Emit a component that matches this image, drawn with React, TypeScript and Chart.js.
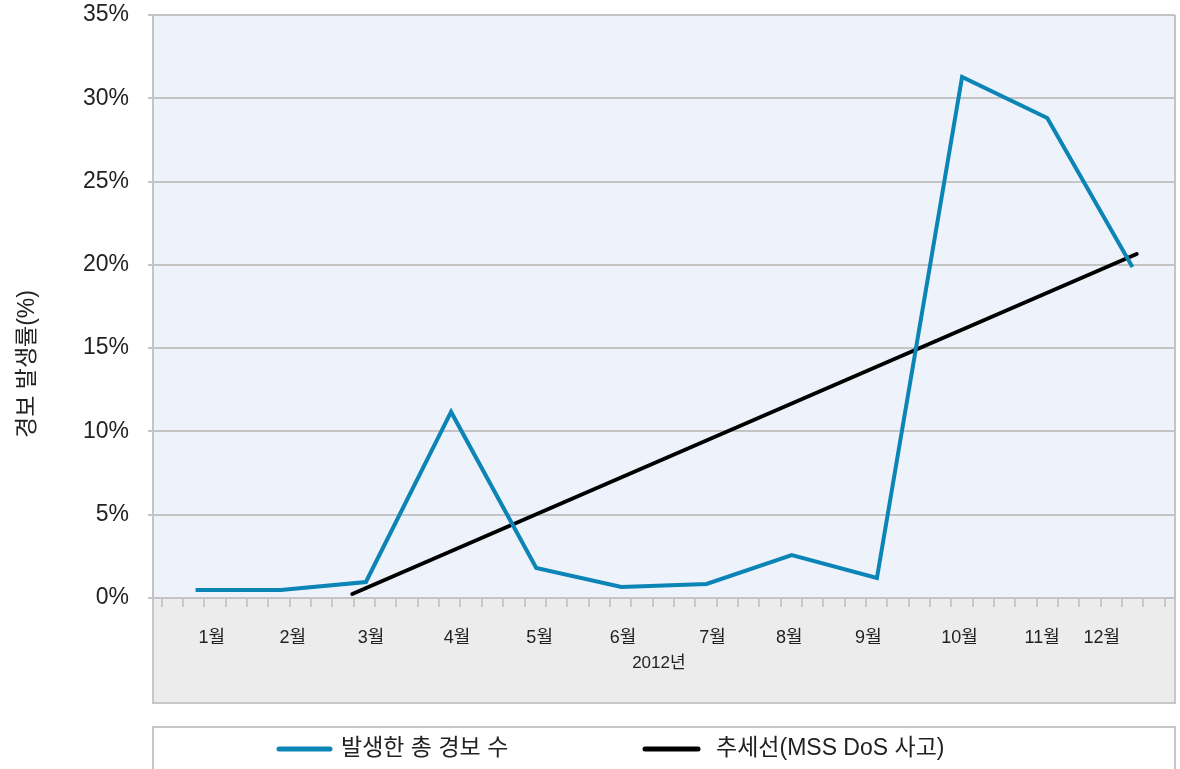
import React, { useEffect, useRef } from "react";
import { Chart, registerables } from "chart.js";

Chart.register(...registerables);

// Monthly alert rate (%) for 2012
const MONTHS = ["1월", "2월", "3월", "4월", "5월", "6월", "7월", "8월", "9월", "10월", "11월", "12월"];
const ALERT_RATE = [0.48, 0.48, 0.96, 11.17, 1.8, 0.66, 0.84, 2.58, 1.2, 31.28, 28.82, 19.87];
// Trend line end points (month position, %)
const TREND_X = [2.84, 12.05];
const TREND_Y = [0.24, 20.65];
const Y_TICKS = [0, 5, 10, 15, 20, 25, 30, 35];
const YEAR_LABEL = "2012년";
const SERIES_NAMES = ["발생한 총 경보 수", "추세선(MSS DoS 사고)"];
const Y_TITLE = "경보 발생률(%)";

const FONT = "'Liberation Sans', Arial, 'Noto Sans CJK KR', sans-serif";
const BLUE = "#0b84b6";
const GRID = "#c4c4c4";

// where each month name sits along the x scale (value units)
const MONTH_LABEL_AT = [1.19, 2.14, 3.06, 4.07, 5.04, 6.02, 7.07, 7.97, 8.9, 9.97, 10.94, 11.64];
const YEAR_LABEL_AT = 6.44;

const framePlugin = {
  id: "frame",
  beforeDraw(chart: any) {
    const { ctx, chartArea } = chart;
    const { left, right, top, bottom } = chartArea;
    ctx.save();
    // plot background
    ctx.fillStyle = "#eef2fa";
    ctx.fillRect(left, top, right - left, bottom - top);
    // category band under the axis
    ctx.fillStyle = "#ececec";
    ctx.fillRect(left, bottom, right - left, 703 - bottom);
    ctx.strokeStyle = "#c8c8c8";
    ctx.lineWidth = 2;
    ctx.strokeRect(left, bottom, right - left, 703 - bottom);
    // legend box
    ctx.fillStyle = "#ffffff";
    ctx.fillRect(left, 727, right - left, 60);
    ctx.strokeRect(left, 727, right - left, 60);
    ctx.restore();
  },
  beforeDatasetsDraw(chart: any) {
    const { ctx, chartArea } = chart;
    ctx.save();
    ctx.strokeStyle = GRID;
    ctx.lineWidth = 2;
    ctx.beginPath();
    ctx.moveTo(chartArea.right, chartArea.top);
    ctx.lineTo(chartArea.right, chartArea.bottom);
    ctx.stroke();
    ctx.restore();
  },
  afterDraw(chart: any) {
    const { ctx } = chart;
    const xs = chart.scales.x;
    ctx.save();
    ctx.fillStyle = "#222";
    ctx.textAlign = "center";
    ctx.textBaseline = "middle";
    ctx.font = `18px ${FONT}`;
    MONTHS.forEach((m, i) => {
      ctx.fillText(m, xs.getPixelForValue(MONTH_LABEL_AT[i]), 638);
    });
    ctx.font = `17px ${FONT}`;
    ctx.fillText(YEAR_LABEL, xs.getPixelForValue(YEAR_LABEL_AT), 663);

    // y-axis title
    ctx.save();
    ctx.translate(28, 364);
    ctx.rotate(-Math.PI / 2);
    ctx.font = `23px ${FONT}`;
    ctx.fillText(Y_TITLE, 0, 0);
    ctx.restore();

    // legend entries
    const entries = chart.data.datasets.map((d: any) => ({ label: d.label, color: d.borderColor }));
    const pos = [
      { x0: 279, x1: 330, tx: 341 },
      { x0: 645, x1: 698, tx: 716 },
    ];
    ctx.textAlign = "left";
    ctx.font = `23px ${FONT}`;
    entries.forEach((e: any, i: number) => {
      const p = pos[i];
      ctx.strokeStyle = e.color;
      ctx.lineWidth = 5;
      ctx.lineCap = "round";
      ctx.beginPath();
      ctx.moveTo(p.x0, 749);
      ctx.lineTo(p.x1, 749);
      ctx.stroke();
      ctx.fillStyle = "#222";
      ctx.fillText(e.label, p.tx, 749);
    });
    ctx.restore();
  },
};

export default function App() {
  const canvasRef = useRef<HTMLCanvasElement | null>(null);

  useEffect(() => {
    const canvas = canvasRef.current;
    if (!canvas) return;
    const chart = new Chart(canvas, {
      type: "line",
      data: {
        datasets: [
          {
            label: SERIES_NAMES[0],
            data: ALERT_RATE.map((v, i) => ({ x: i + 1, y: v })),
            borderColor: BLUE,
            borderWidth: 4,
            pointRadius: 0,
            tension: 0,
            borderJoinStyle: "miter",
            borderCapStyle: "butt",
          },
          {
            label: SERIES_NAMES[1],
            data: TREND_X.map((x, i) => ({ x, y: TREND_Y[i] })),
            borderColor: "#000000",
            borderWidth: 4,
            pointRadius: 0,
            tension: 0,
            borderCapStyle: "round",
          },
        ],
      },
      options: {
        responsive: false,
        animation: false,
        layout: { padding: { left: 0, top: 15, right: 5, bottom: 0 } },
        plugins: {
          legend: { display: false },
          tooltip: { enabled: false },
        },
        scales: {
          x: {
            type: "linear",
            min: 0.5,
            max: 12.5,
            afterBuildTicks: (scale: any) => {
              const t = [];
              for (let k = 0; k < 48; k++) t.push({ value: 0.602 + k * 0.2506 });
              scale.ticks = t;
            },
            afterFit: (scale: any) => {
              scale.height = 171;
              scale.paddingLeft = 0;
              scale.paddingRight = 0;
            },
            ticks: { callback: () => "", autoSkip: false, maxRotation: 0 },
            grid: {
              drawOnChartArea: false,
              drawTicks: true,
              tickLength: 9,
              color: "#c8c8c8",
              lineWidth: 2,
            },
            border: { color: GRID, width: 2 },
          },
          y: {
            min: 0,
            max: 35,
            afterBuildTicks: (scale: any) => {
              scale.ticks = Y_TICKS.map((v) => ({ value: v }));
            },
            afterFit: (scale: any) => {
              scale.width = 153;
              scale.paddingTop = 0;
              scale.paddingBottom = 0;
            },
            ticks: {
              callback: (v: any) => `${v}%`,
              font: { family: FONT, size: 23 },
              color: "#222",
              padding: 19,
            },
            grid: {
              color: GRID,
              lineWidth: 2,
              tickLength: 5,
            },
            border: { color: GRID, width: 2 },
          },
        },
      },
      plugins: [framePlugin],
    } as any);
    return () => chart.destroy();
  }, []);

  return (
    <div style={{ position: "absolute", left: 0, top: 0, width: 1180, height: 769, background: "#fff" }}>
      <canvas ref={canvasRef} width={1180} height={769} />
    </div>
  );
}
